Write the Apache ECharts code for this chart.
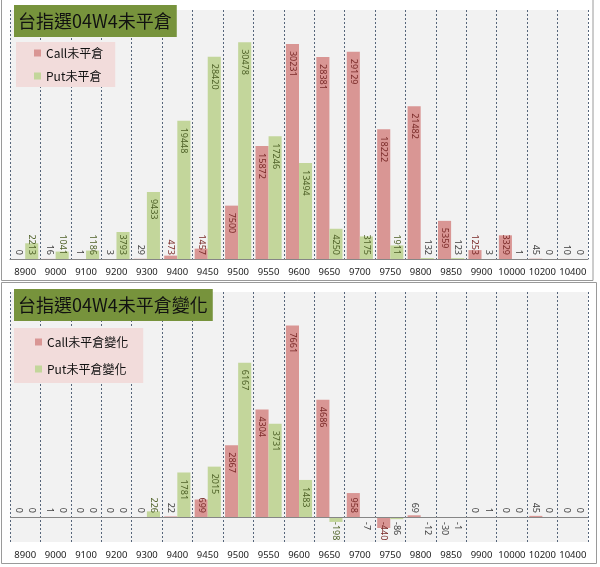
<!DOCTYPE html>
<html>
<head>
<meta charset="utf-8">
<script src="https://cdn.jsdelivr.net/npm/echarts@6/dist/echarts.min.js"></script>
<style>
html,body{margin:0;padding:0;background:#fff;}
#c{width:600px;height:567px;}
</style>
</head>
<body>
<div id="c"></div>
<script>
// ---- data ----
const categories = ['8900','9000','9100','9200','9300','9400','9450','9500','9550','9600','9650','9700','9750','9800','9850','9900','10000','10200','10400'];
const callOI  = [0,16,1,3,29,473,1457,7500,15872,30231,28381,29129,18222,21482,5359,1253,3329,45,10];
const putOI   = [2213,1041,1186,3793,9433,19448,28420,30478,17246,13494,4250,3175,1911,132,123,3,1,0,0];
const callChg = [0,1,0,0,0,22,699,2867,4304,7661,4686,958,-440,69,-30,0,0,45,0];
const putChg  = [0,0,0,0,226,1781,2015,6167,3731,1483,-198,-7,-86,-12,-1,1,0,0,0];
const seriesNames = ['Call未平倉','Put未平倉','Call未平倉變化','Put未平倉變化'];
const titles = ['台指選04W4未平倉','台指選04W4未平倉變化'];

// ---- styling ----
const CALL = '#D99694', PUT = '#C3D69B';
const CALL_TXT = '#7a2a28', PUT_TXT = '#4F6228', GRAY_TXT = '#404040';
const grids = [
  {left:10, right:12, top:10, height:249, min:0, max:35000},
  {left:10, right:12, top:292, height:250, min:-1000, max:9000}
];

function labeled(vals, g, txtColor) {
  const ppu = g.height / (g.max - g.min);
  return vals.map(v => {
    const len = String(v).length * 5.2;
    const px = Math.abs(v) * ppu;
    let pos, align, dist;
    if (v < 0) { pos = 'insideTop'; align = 'left'; dist = 5; }
    else if (px >= len + 12) { pos = 'insideTop'; align = 'left'; dist = 7; }
    else { pos = 'insideBottom'; align = 'right'; dist = 4; }
    return {
      value: v,
      label: { position: pos, align: align, distance: dist, color: px < 3 ? GRAY_TXT : txtColor }
    };
  });
}

const baseLabel = {
  show: true, rotate: -90, verticalAlign: 'middle',
  fontSize: 9, fontFamily: 'Noto Sans, sans-serif'
};

function xAxis(i, showLine) {
  return {
    type: 'category', gridIndex: i, data: categories, boundaryGap: true,
    axisTick: {show: false},
    axisLine: {show: showLine, onZero: false, lineStyle: {color: '#868686', width: 1}},
    axisLabel: {interval: 0, fontSize: 9.5, color: '#222', margin: 8, fontFamily: 'Noto Sans, sans-serif'},
    splitLine: {show: true, interval: 0, lineStyle: {type: [2, 2], color: '#56657a', width: 1}}
  };
}
function yAxis(i) {
  const g = grids[i];
  return {type: 'value', gridIndex: i, min: g.min, max: g.max, show: false, splitLine: {show: false}};
}
function bar(name, i, vals, color, txt) {
  return {
    name: name, type: 'bar', xAxisIndex: i, yAxisIndex: i,
    data: labeled(vals, grids[i], txt),
    itemStyle: {color: color},
    barGap: '0%', barCategoryGap: '14%',
    label: Object.assign({}, baseLabel)
  };
}

const titleStyle = {fontSize: 18, fontWeight: 'normal', color: '#111', fontFamily: 'Noto Sans CJK TC'};
const legendBase = {
  orient: 'vertical', icon: 'rect', itemWidth: 7, itemHeight: 7,
  backgroundColor: '#F2DCDB', selectedMode: false,
  textStyle: {fontSize: 12, color: '#111', fontFamily: 'Noto Sans CJK TC'}
};

const series = [
  bar(seriesNames[0], 0, callOI, CALL, CALL_TXT),
  bar(seriesNames[1], 0, putOI, PUT, PUT_TXT),
  bar(seriesNames[2], 1, callChg, CALL, CALL_TXT),
  bar(seriesNames[3], 1, putChg, PUT, PUT_TXT)
];
series[2].markLine = {
  silent: true, symbol: ['none', 'none'], label: {show: false},
  lineStyle: {color: '#868686', type: 'solid', width: 1},
  data: [{yAxis: 0}]
};

const chart = echarts.init(document.getElementById('c'), null, {renderer: 'canvas'});
chart.setOption({
  animation: false,
  backgroundColor: '#fff',
  title: [
    {text: titles[0], left: 14, top: 5, backgroundColor: '#77933C', padding: [7, 5, 7, 4], textStyle: titleStyle},
    {text: titles[1], left: 14, top: 289, backgroundColor: '#77933C', padding: [7, 5, 7, 4], textStyle: titleStyle}
  ],
  legend: [
    Object.assign({}, legendBase, {data: [seriesNames[0], seriesNames[1]], left: 16, top: 42, padding: [5, 12, 5, 18], itemGap: 11}),
    Object.assign({}, legendBase, {data: [seriesNames[2], seriesNames[3]], left: 14, top: 328, padding: [8, 15, 8, 21], itemGap: 15})
  ],
  grid: grids.map(g => ({left: g.left, right: g.right, top: g.top, height: g.height, show: true, backgroundColor: '#F2F2F2', borderWidth: 0})),
  xAxis: [xAxis(0, true), xAxis(1, false)],
  yAxis: [yAxis(0), yAxis(1)],
  series: series,
  graphic: [
    {type: 'rect', shape: {x: 1.5, y: -1, width: 591.5, height: 281.5}, style: {fill: 'none', stroke: '#9a9a9a', lineWidth: 1}, z: 100},
    {type: 'rect', shape: {x: 1.5, y: 282.5, width: 595, height: 281}, style: {fill: 'none', stroke: '#9a9a9a', lineWidth: 1}, z: 100}
  ]
});
</script>
</body>
</html>
